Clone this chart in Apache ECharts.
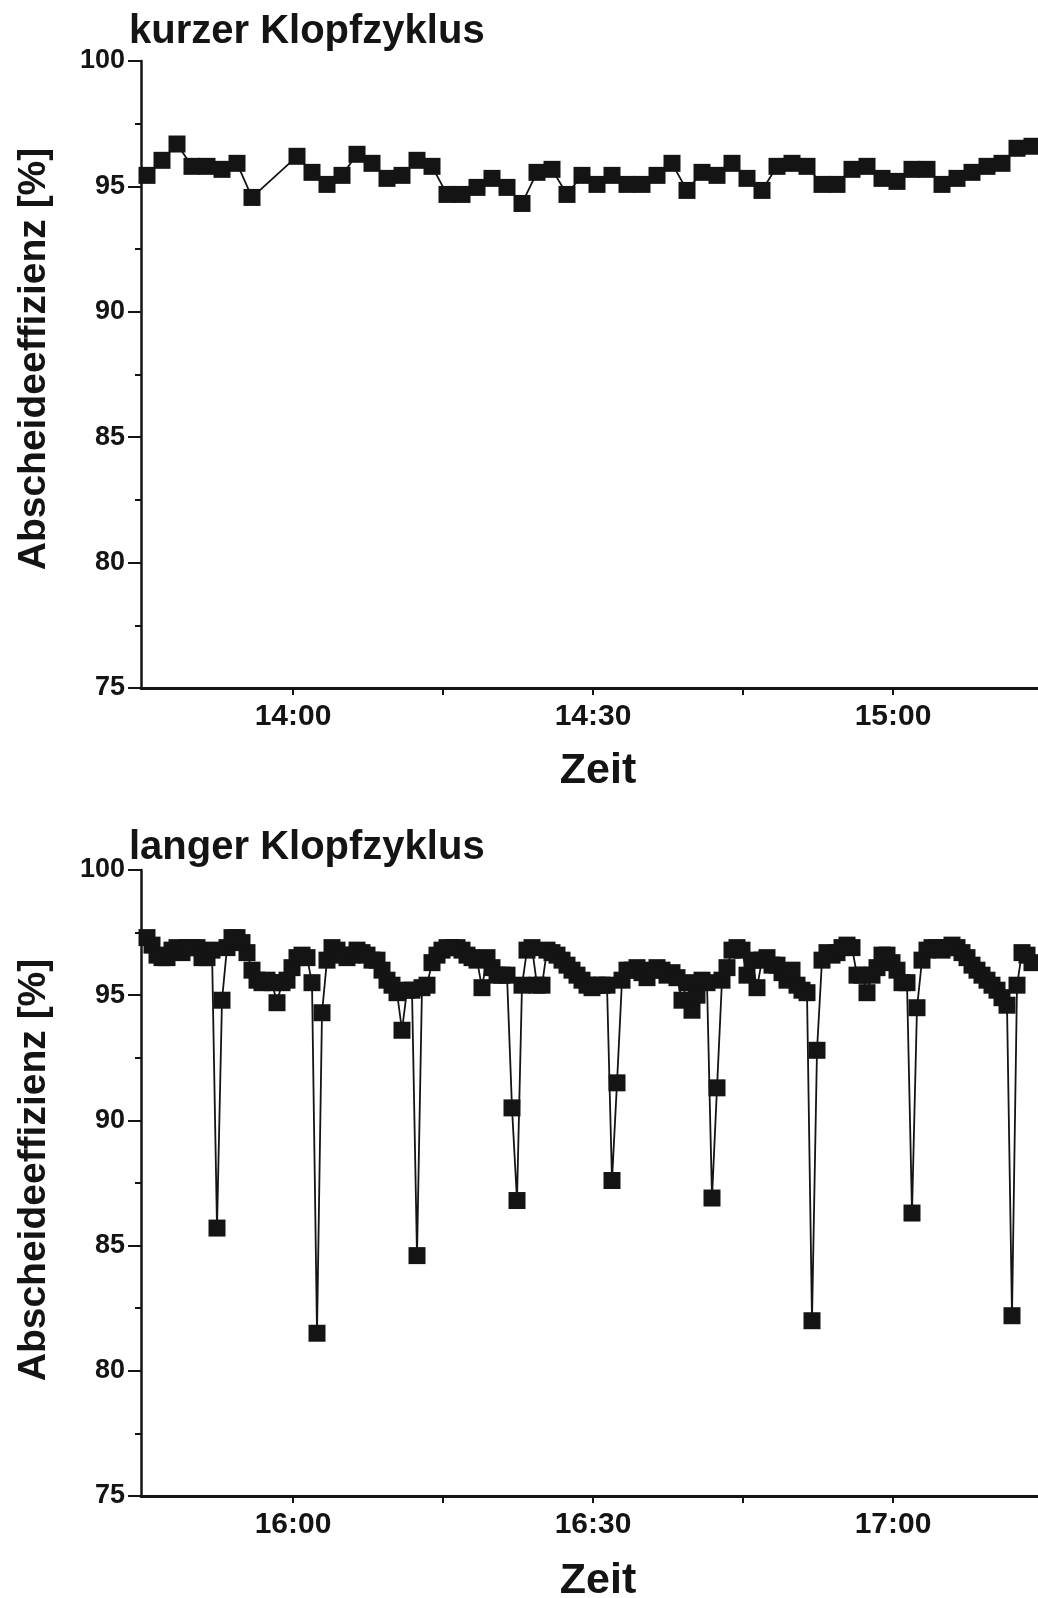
<!DOCTYPE html>
<html><head><meta charset="utf-8">
<script src="https://cdn.jsdelivr.net/npm/echarts@6/dist/echarts.min.js"></script>
<style>html,body{margin:0;padding:0;background:#fff}#c{width:1038px;height:1598px}</style>
</head><body><div id="c"></div>
<script>
// ---- texts ----
const panelTitles = ['kurzer Klopfzyklus', 'langer Klopfzyklus'];
const yAxisTitle = 'Abscheideeffizienz [%]';
const xAxisTitle = 'Zeit';

// ---- axes ----
const yMin = 75, yMax = 100, yStep = 5;
const topTickTimes = ['14:00', '14:15', '14:30', '14:45', '15:00'];
const topLabelTimes = ['14:00', '14:30', '15:00'];
const bottomTickTimes = ['16:00', '16:15', '16:30', '16:45', '17:00'];
const bottomLabelTimes = ['16:00', '16:30', '17:00'];
const topRange = ['13:44.8', '15:14.5'];
const bottomRange = ['15:44.8', '17:14.5'];

// ---- data: short knock cycle (one reading every 1.5 min, two readings missing) ----
const topStart = '13:45.4';
const topStepMin = 1.5;
const topValues = [
  95.44, 96.04, 96.69, 95.8, 95.8, 95.68, 95.92, 94.56, null, null,
  96.2, 95.56, 95.08, 95.44, 96.28, 95.92, 95.32, 95.44, 96.04, 95.8,
  94.68, 94.68, 94.96, 95.32, 94.96, 94.32, 95.56, 95.68, 94.68, 95.44,
  95.08, 95.44, 95.08, 95.08, 95.44, 95.92, 94.84, 95.56, 95.44, 95.92,
  95.32, 94.84, 95.8, 95.92, 95.8, 95.08, 95.08, 95.68, 95.8, 95.32,
  95.2, 95.68, 95.68, 95.08, 95.32, 95.56, 95.8, 95.92, 96.52, 96.6
];

// ---- data: long knock cycle (one reading every 0.5 min) ----
const bottomStart = '15:45.4';
const bottomStepMin = 0.5;
const bottomValues = [
  97.3, 97.0, 96.6, 96.5, 96.5, 96.8, 96.9, 96.7, 96.9, 96.9,
  96.9, 96.5, 96.5, 96.8, 85.7, 94.8, 96.9, 97.3, 97.3, 97.1,
  96.7, 96.0, 95.6, 95.5, 95.6, 95.5, 94.7, 95.5, 95.6, 96.1,
  96.5, 96.6, 96.5, 95.5, 81.5, 94.3, 96.4, 96.9, 96.8, 96.6,
  96.5, 96.6, 96.8, 96.7, 96.6, 96.4, 96.4, 96.0, 95.6, 95.4,
  95.1, 93.6, 95.2, 95.2, 84.6, 95.3, 95.4, 96.3, 96.6, 96.8,
  96.9, 96.9, 96.9, 96.8, 96.6, 96.5, 96.4, 95.3, 96.5, 96.1,
  95.8, 95.8, 95.8, 90.5, 86.8, 95.4, 96.8, 96.9, 95.4, 95.4,
  96.8, 96.7, 96.6, 96.4, 96.2, 96.0, 95.8, 95.6, 95.4, 95.3,
  95.4, 95.4, 95.4, 87.6, 91.5, 95.6, 96.0, 96.0, 96.1, 95.9,
  95.7, 96.0, 96.1, 96.0, 95.8, 95.9, 95.7, 94.8, 95.5, 94.4,
  95.0, 95.6, 95.5, 86.9, 91.3, 95.6, 96.1, 96.8, 96.9, 96.8,
  95.8, 96.4, 95.3, 96.4, 96.5, 96.2, 96.2, 95.9, 95.6, 96.0,
  95.4, 95.2, 95.1, 82.0, 92.8, 96.4, 96.7, 96.6, 96.7, 96.9,
  97.0, 96.9, 95.8, 95.8, 95.1, 95.8, 96.1, 96.6, 96.6, 96.3,
  96.0, 95.5, 95.5, 86.3, 94.5, 96.4, 96.8, 96.9, 96.9, 96.8,
  96.9, 97.0, 96.9, 96.7, 96.5, 96.2, 96.0, 95.8, 95.6, 95.4,
  95.2, 94.9, 94.6, 82.2, 95.4, 96.7, 96.6, 96.3
];

// ---- helpers ----
function toMin(s) { const p = s.split(':'); return +p[0] * 60 + parseFloat(p[1]); }
function fmt(v) {
  const h = Math.floor(v / 60), m = Math.round(v - h * 60);
  return h + ':' + (m < 10 ? '0' : '') + m;
}
function pairs(start, step, vals) {
  const t0 = toMin(start);
  return vals.map((v, i) => [t0 + i * step, v]);
}

const FONT = '"Liberation Sans", Arial, Helvetica, sans-serif';
const INK = '#141414';
const GRIDS = [{ top: 61, height: 627 }, { top: 870, height: 626 }];

function xAxisFor(i, range, ticks, labels) {
  return {
    type: 'value', gridIndex: i,
    min: toMin(range[0]), max: toMin(range[1]),
    axisLine: { show: true, onZero: false, lineStyle: { color: INK, width: 3 } },
    axisTick: { show: true, customValues: ticks.map(toMin), length: 7, lineStyle: { color: INK, width: 2 } },
    axisLabel: { customValues: labels.map(toMin), formatter: fmt, fontSize: 30, fontWeight: 'bold',
      fontFamily: FONT, color: INK, margin: 14 },
    splitLine: { show: false }
  };
}
function yAxisFor(i) {
  return {
    type: 'value', gridIndex: i, min: yMin, max: yMax, interval: yStep,
    axisLine: { show: true, lineStyle: { color: INK, width: 2.5 } },
    axisTick: { show: true, length: 13, lineStyle: { color: INK, width: 2 } },
    minorTick: { show: true, splitNumber: 2, length: 6, lineStyle: { color: INK, width: 2 } },
    axisLabel: { fontSize: 27, fontWeight: 'bold', fontFamily: FONT, color: INK, margin: 16 },
    splitLine: { show: false }, minorSplitLine: { show: false }
  };
}
function seriesFor(i, data) {
  return {
    type: 'line', xAxisIndex: i, yAxisIndex: i, data,
    symbol: 'rect', symbolSize: 17, connectNulls: true, clip: false,
    lineStyle: { color: INK, width: 1.8 }, itemStyle: { color: INK },
    animation: false
  };
}
function txt(text, x, y, size, rot) {
  return { type: 'text', x, y, rotation: rot || 0, silent: true,
    style: { text, font: 'bold ' + size + 'px ' + FONT, fill: INK,
      textAlign: 'center', align: 'center', textVerticalAlign: 'middle', verticalAlign: 'middle' } };
}
function leftTxt(text, x, y, size) {
  return { type: 'text', x, y, silent: true,
    style: { text, font: 'bold ' + size + 'px ' + FONT, fill: INK,
      textAlign: 'left', align: 'left', textVerticalAlign: 'middle', verticalAlign: 'middle' } };
}

const chart = echarts.init(document.getElementById('c'), null, { renderer: 'canvas' });
chart.setOption({
  backgroundColor: '#fff',
  animation: false,
  grid: GRIDS.map(g => ({ left: 141, right: 0, top: g.top, height: g.height })),
  xAxis: [xAxisFor(0, topRange, topTickTimes, topLabelTimes), xAxisFor(1, bottomRange, bottomTickTimes, bottomLabelTimes)],
  yAxis: [yAxisFor(0), yAxisFor(1)],
  series: [seriesFor(0, pairs(topStart, topStepMin, topValues)), seriesFor(1, pairs(bottomStart, bottomStepMin, bottomValues))],
  graphic: [
    leftTxt(panelTitles[0], 129, 32, 40),
    leftTxt(panelTitles[1], 129, 848, 40),
    txt(yAxisTitle, 34, 359, 39, Math.PI / 2),
    txt(yAxisTitle, 34, 1170, 39, Math.PI / 2),
    txt(xAxisTitle, 598, 771, 43),
    txt(xAxisTitle, 598, 1581, 43)
  ]
});
</script></body></html>
